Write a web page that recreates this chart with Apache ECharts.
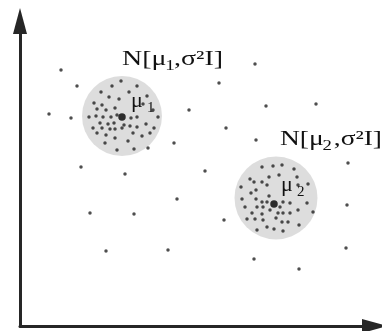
<!DOCTYPE html>
<html><head><meta charset="utf-8">
<script src="https://cdn.jsdelivr.net/npm/echarts@6/dist/echarts.min.js"></script>
<style>html,body{margin:0;padding:0;background:#fff}#c{width:382px;height:331px}</style>
</head><body><div id="c"></div>
<script>
// Data (arbitrary units)
const circle1Center = [[102, 210]];
const circle2Center = [[256, 128]];
const means = [[102, 209], [254, 122]];
const cluster1 = [
  [101,245],[92,240],[117,240],[81,234],[109,234],[127,230],[89,229],[99,227],[74,223],[82,221],
  [123,222],[77,217],[86,216],[95,218],[133,216],[69,209],[76,210],[83,209],[91,209],[97,211],
  [111,208],[117,209],[138,209],[80,203],[88,202],[94,203],[104,201],[110,200],[117,199],[126,202],
  [73,198],[82,198],[90,197],[95,197],[102,198],[134,198],[77,193],[86,191],[113,193],[122,190],
  [130,193],[95,188],[108,185],[85,183],[128,178],[97,176],[114,177]
];
const cluster2 = [
  [242,159],[253,160],[262,161],[274,157],[249,149],[259,151],[277,149],[230,147],[234,144],[242,144],
  [247,141],[278,141],[288,142],[221,139],[236,136],[231,133],[249,130],[222,127],[236,127],[242,124],
  [247,124],[263,124],[270,123],[287,123],[293,114],[225,119],[237,119],[243,119],[250,116],[260,119],
  [278,116],[232,113],[242,112],[258,113],[263,113],[270,113],[227,107],[235,107],[243,106],[256,108],
  [262,104],[268,104],[279,101],[237,96],[247,99],[254,97],[263,95]
];
const scattered = [
  [41,256],[57,240],[29,212],[51,208],[169,216],[154,183],[61,159],[235,262],[199,243],[246,220],
  [296,222],[206,198],[236,186],[328,163],[185,155],[105,152],[157,127],[70,113],[114,112],[86,75],
  [148,76],[327,121],[204,106],[326,78],[234,67],[279,57]
];
const labelTitles = ['N[μ', ',σ²I]'];
const subscripts = ['1', '2'];
const meanSymbol = 'μ';

const chart = echarts.init(document.getElementById('c'), null, {renderer: 'canvas'});
const axisCommon = {
  type: 'value',
  axisLine: {show: true, symbol: ['none', 'triangle'], symbolSize: [14, 26],
    lineStyle: {color: '#262626', width: 3}},
  axisTick: {show: false}, axisLabel: {show: false}, splitLine: {show: false}
};
const serif = '"Liberation Serif", "DejaVu Serif", serif';
function t(text, x, y, size) {
  return {type: 'text', x: x, y: y, z: 100, zlevel: 1, silent: true,
    style: {text: text, font: size + 'px ' + serif, fill: '#111'}};
}
chart.setOption({
  animation: false,
  grid: {left: 20, right: 7, top: 21, bottom: 5},
  xAxis: Object.assign({min: 0, max: 355}, axisCommon),
  yAxis: Object.assign({min: 0, max: 305}, axisCommon),
  series: [
    {type: 'scatter', data: circle1Center, symbolSize: 80, itemStyle: {color: '#d4d4d4'}, silent: true, z: 1},
    {type: 'scatter', data: circle2Center, symbolSize: 83, itemStyle: {color: '#d4d4d4'}, silent: true, z: 1},
    {type: 'scatter', data: cluster1.concat(cluster2, scattered), symbolSize: 3.5, itemStyle: {color: '#222'}, silent: true, z: 3},
    {type: 'scatter', data: means, symbolSize: 7.5, itemStyle: {color: '#000'}, silent: true, z: 4}
  ],
  graphic: [
    {type: 'group', left: 122, top: 48, scaleX: 1.27, zlevel: 1, z: 100, children: [
      t(labelTitles[0], 0, 0, 22), t(subscripts[0], 34, 11, 15), t(labelTitles[1], 41, 0, 22)
    ]},
    {type: 'group', left: 280, top: 128, scaleX: 1.25, zlevel: 1, z: 100, children: [
      t(labelTitles[0], 0, 0, 22), t(subscripts[1], 34, 11, 15), t(labelTitles[1], 43, 0, 22)
    ]},
    {type: 'group', left: 131, top: 90, zlevel: 1, z: 100, children: [
      t(meanSymbol, 0, 0, 22), t(subscripts[0], 16, 11, 15)
    ]},
    {type: 'group', left: 281, top: 174, zlevel: 1, z: 100, children: [
      t(meanSymbol, 0, 0, 22), t(subscripts[1], 16, 11, 15)
    ]}
  ]
});
</script>
</body></html>
